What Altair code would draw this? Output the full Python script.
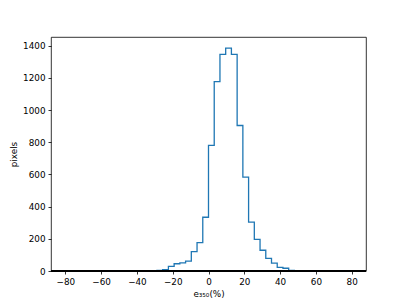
import altair as alt
import pandas as pd

# Histogram bin edges (50 bins from -80 to 80) and counts
bin_lo = -80.0
bin_w = 3.2
counts = [0, 1, 1, 0, 1, 0, 0, 1, 0, 1,
          1, 0, 0, 0, 0, 2, 3, 9, 29, 45,
          50, 61, 120, 176, 334, 781, 1177, 1346, 1385, 1346,
          904, 583, 304, 197, 129, 79, 49, 23, 17, 4,
          0, 0, 0, 0, 0, 0, 0, 0, 0, 0]
edges = [round(bin_lo + bin_w * i, 2) for i in range(len(counts) + 1)]

x_ticks = [-80, -60, -40, -20, 0, 20, 40, 60, 80]
y_ticks = [0, 200, 400, 600, 800, 1000, 1200, 1400]

df = pd.DataFrame({"x": edges, "y": counts + [counts[-1]]})

FONT = "DejaVu Sans"

xs = alt.Scale(domain=[-88, 88], nice=False, zero=False)
ys = alt.Scale(domain=[0, 1454], nice=False)

line = alt.Chart(df).mark_line(
    interpolate="step-after", color="#1f77b4", strokeWidth=1.3
).encode(
    x=alt.X("x:Q", scale=xs,
            axis=alt.Axis(values=x_ticks, title="e₃₅₀(%)", format="d")),
    y=alt.Y("y:Q", scale=ys,
            axis=alt.Axis(values=y_ticks, title="pixels", format="d",
                          labelOverlap=False)),
)

spine = alt.Chart(df).mark_rule(color="black", strokeWidth=0.8).encode(
    y=alt.value(234), x=alt.value(0), x2=alt.value(315)
)

chart = alt.layer(line, spine).properties(
    width=315, height=234,
    autosize=alt.AutoSizeParams(type="none"),
    padding={"left": 43, "top": 29, "right": 25, "bottom": 30},
).configure_view(
    stroke="black", strokeWidth=0.8
).configure_axis(
    domain=False, grid=False,
    tickColor="black", tickWidth=0.8, tickSize=3,
    labelFont=FONT, labelFontSize=8.8, labelColor="black", labelPadding=3,
    titleFont=FONT, titleFontSize=8.8, titleColor="black", titleFontWeight="normal",
    titlePadding=4,
)

chart.save("out.html", embed_options={"renderer": "svg", "actions": False})
